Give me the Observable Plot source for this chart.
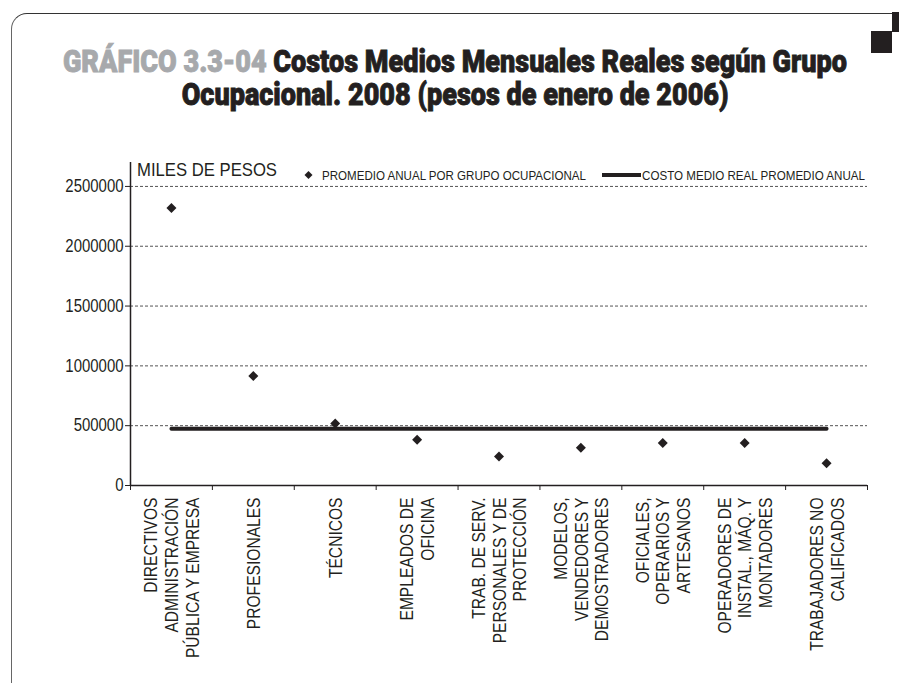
<!DOCTYPE html>
<html>
<head>
<meta charset="utf-8">
<script src="https://cdn.jsdelivr.net/npm/d3@7"></script>
<script src="https://cdn.jsdelivr.net/npm/@observablehq/plot@0.6"></script>
<style>
  html, body { margin: 0; padding: 0; background: #fff; }
  #page { position: relative; width: 899px; height: 685px; overflow: hidden; background: #fff;
          font-family: "Liberation Sans", Arial, sans-serif; }
  #frame { position: absolute; left: 11px; top: 13px; width: 920px; height: 669px;
           border-top: 1.5px solid #333; border-left: 1.5px solid #666; border-top-left-radius: 16px; }
  #bar { position: absolute; left: 892px; top: 12px; width: 7px; height: 20px; background: #231f20; }
  #sq { position: absolute; left: 871px; top: 31px; width: 21px; height: 22px; background: #231f20; }
  .tline { position: absolute; left: 0; width: 910px; text-align: center; white-space: nowrap;
           font-family: Roboto, "Liberation Sans", sans-serif; font-weight: 900; font-size: 28px; line-height: 28px;
           color: #231f20; -webkit-text-stroke: 0.8px currentColor; }
  .tline .in { display: inline-block; transform-origin: 50% 23.5px; }
  .g { color: #a7a9ac; }
  .lab { position: absolute; color: #231f20; white-space: nowrap; line-height: 1; transform-origin: 0 50%; }
  #plot { position: absolute; left: 0; top: 150px; }
</style>
</head>
<body>
<div id="page">
  <div id="frame"></div>
  <div id="bar"></div>
  <div id="sq"></div>
  <div class="tline" id="t1" style="top:48.5px;"><span class="in"><span class="g">GRÁFICO 3.3-04</span> Costos Medios Mensuales Reales según Grupo</span></div>
  <div class="tline" id="t2" style="top:81.5px;"><span class="in">Ocupacional. 2008 (pesos de enero de 2006)</span></div>
  <div class="lab fit" data-w="140" style="left:137px;top:161px;font-size:18.6px;">MILES DE PESOS</div>
  <div class="lab" style="left:302px;top:169px;"><svg width="13" height="12" style="display:block"><path d="M6.5,2L10.5,6L6.5,10L2.5,6Z" fill="#231f20"/></svg></div>
  <div class="lab fit" data-w="264" style="left:322px;top:169px;font-size:13px;">PROMEDIO ANUAL POR GRUPO OCUPACIONAL</div>
  <div class="lab" style="left:602px;top:173px;width:39px;height:3.5px;background:#231f20;"></div>
  <div class="lab fit" data-w="223" style="left:642px;top:169px;font-size:13px;">COSTO MEDIO REAL PROMEDIO ANUAL</div>
  <div id="plot"></div>
</div>
<script>
const categories = [
  "DIRECTIVOS\nADMINISTRACIÓN\nPÚBLICA Y EMPRESA",
  "PROFESIONALES",
  "TÉCNICOS",
  "EMPLEADOS DE\nOFICINA",
  "TRAB. DE SERV.\nPERSONALES Y DE\nPROTECCIÓN",
  "MODELOS,\nVENDEDORES Y\nDEMOSTRADORES",
  "OFICIALES,\nOPERARIOS Y\nARTESANOS",
  "OPERADORES DE\nINSTAL., MÁQ. Y\nMONTADORES",
  "TRABAJADORES NO\nCALIFICADOS"
];
const promedioGrupo = [2320000, 915000, 518000, 382000, 243000, 316000, 356000, 355000, 185000];
const costoMedio = 475000;
const yTicks = [0, 500000, 1000000, 1500000, 2000000, 2500000];
const yMax = 2700000;

const points = categories.map((c, i) => ({pos: i + 0.5, cat: c, value: promedioGrupo[i]}));
const avgLine = categories.map((c, i) => ({pos: i + 0.5, value: costoMedio}));
const centers = categories.map((c, i) => i + 0.5);
const bounds = d3.range(0, categories.length + 1);

const font = '"Liberation Sans", Arial, sans-serif';

const chart = Plot.plot({
  width: 899,
  height: 535,
  marginLeft: 130,
  marginRight: 32,
  marginTop: 12,
  marginBottom: 200,
  style: {fontFamily: font, color: "#231f20", background: "transparent", overflow: "visible"},
  x: {type: "linear", domain: [0, categories.length], axis: null},
  y: {domain: [0, yMax], axis: null},
  marks: [
    Plot.gridY(yTicks.filter(d => d > 0), {stroke: "#555", strokeOpacity: 1, strokeWidth: 1, strokeDasharray: "3,2"}),
    Plot.axisY({ticks: yTicks, tickSize: 5, tickPadding: 2, tickFormat: d3.format("d"), fontSize: 18, label: null, stroke: "#231f20"}),
    Plot.axisX({ticks: bounds, tickSize: 5, tickFormat: () => "", label: null, stroke: "#231f20"}),
    Plot.axisX({ticks: centers, tickSize: 0, tickPadding: 12, tickRotate: -90, fontSize: 18.8, lineHeight: 1.1,
                tickFormat: d => categories[Math.floor(d)], label: null}),
    Plot.ruleY([0], {stroke: "#231f20", strokeWidth: 1.5}),
    Plot.ruleX([0], {y1: 0, y2: yMax, stroke: "#231f20", strokeWidth: 1.5}),
    Plot.lineY(avgLine, {x: "pos", y: "value", stroke: "#231f20", strokeWidth: 4}),
    Plot.dot(points, {x: "pos", y: "value", symbol: "diamond2", r: 4.5, fill: "#231f20", stroke: "none"})
  ]
});
document.getElementById("plot").appendChild(chart);

// Condense the SVG text horizontally to imitate a condensed typeface
const condense = 0.83;
chart.querySelectorAll("text").forEach(t => {
  const parts = t.querySelectorAll("tspan");
  const targets = parts.length ? Array.from(parts) : [t];
  targets.forEach(el => {
    const L = el.getComputedTextLength();
    if (L > 0) {
      el.setAttribute("textLength", (L * condense).toFixed(2));
      el.setAttribute("lengthAdjust", "spacingAndGlyphs");
    }
  });
});

// Fit HTML labels to their widths (condensed look)
document.querySelectorAll(".fit").forEach(el => {
  const w = +el.dataset.w;
  const nat = el.getBoundingClientRect().width;
  el.style.transform = `scaleX(${w / nat})`;
});
const line1 = document.querySelector("#t1 .in");
const kx = 784 / line1.getBoundingClientRect().width;
document.querySelectorAll(".tline .in").forEach(el => { el.style.transform = `scale(${kx}, 1.12)`; });
</script>
</body>
</html>
